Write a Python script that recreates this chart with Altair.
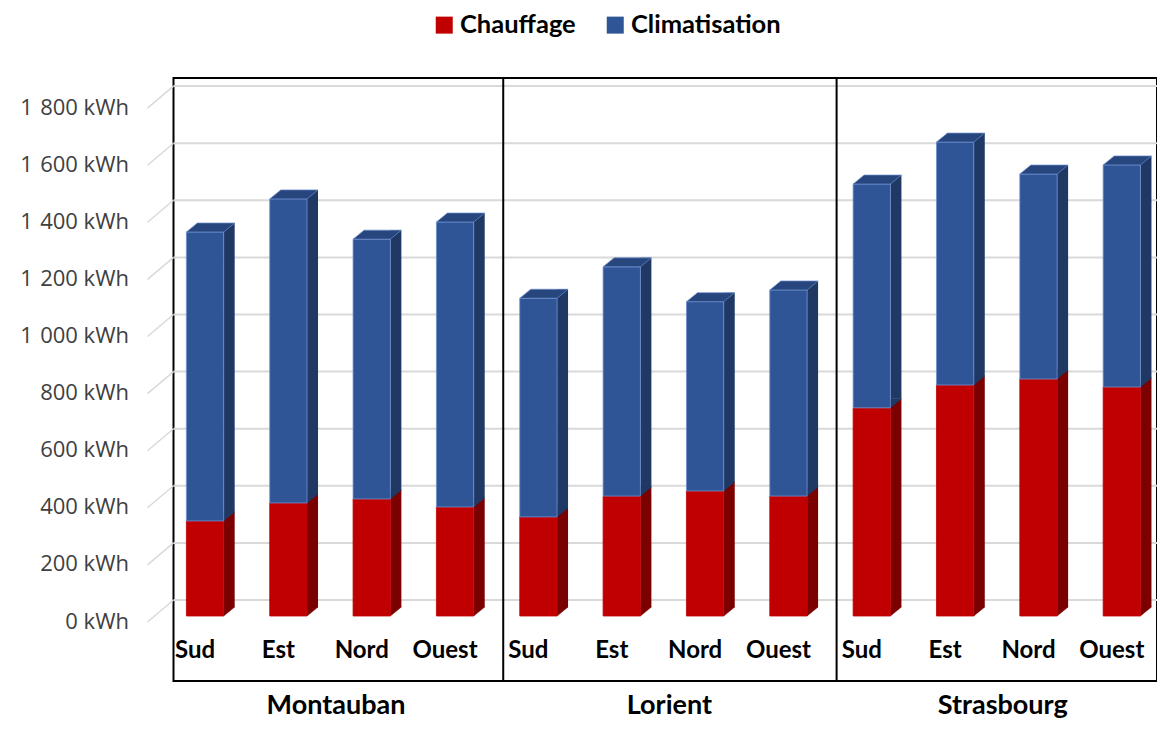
import altair as alt
import pandas as pd

# ---------------- data ----------------
cities = ["Montauban", "Lorient", "Strasbourg"]
orientations = ["Sud", "Est", "Nord", "Ouest"]
series = ["Chauffage", "Climatisation"]
chauffage_kwh = [
    [333, 396, 410, 382],
    [347, 420, 438, 420],
    [729, 809, 830, 802],
]
climatisation_kwh = [
    [1012, 1065, 910, 998],
    [766, 803, 663, 722],
    [784, 851, 718, 778],
]
y_ticks = [0, 200, 400, 600, 800, 1000, 1200, 1400, 1600, 1800]

# ---------------- style ----------------
front_colors = ["#C00000", "#2F5597"]
side_colors = ["#7B0000", "#1F3864"]
top_color = "#27467E"
edge_blue = "#6F8FCF"
grid_color = "#D9D9D9"

STEP = 84.2        # px between bars
X0 = 26.8          # px from plot left to first bar front centre
PAD_L = 165.5
SVG_W = 1149
PLOT_W = SVG_W - PAD_L
PLOT_H = 603
Y_BASE = 538.0     # px from top of plot to front baseline (0 kWh)
PX_PER = 0.2855    # px per kWh
HW = 18.65         # half front width
DX, DY = 11, 9     # depth of 3D faces

x_dom = [-X0 / STEP, (PLOT_W - X0) / STEP]
y_dom = [-(PLOT_H - Y_BASE) / PX_PER, Y_BASE / PX_PER]

n_o = len(orientations)
rows = []
for ci, city in enumerate(cities):
    for oi, o in enumerate(orientations):
        idx = ci * n_o + oi
        ch = chauffage_kwh[ci][oi]
        cl = climatisation_kwh[ci][oi]
        rows.append(dict(city=city, orient=o, idx=idx, serie=series[0], y0=0, y1=ch))
        rows.append(dict(city=city, orient=o, idx=idx, serie=series[1], y0=ch, y1=ch + cl))
bars = pd.DataFrame(rows)
labels = pd.DataFrame(
    [dict(orient=o, idx=ci * n_o + oi) for ci in range(len(cities)) for oi, o in enumerate(orientations)]
)
groups = pd.DataFrame(
    {"city": cities, "center": [ci * n_o + (n_o - 1) / 2 for ci in range(len(cities))]}
)
dividers = pd.DataFrame({"b": [ci * n_o - 0.5 for ci in range(1, len(cities))]})
grid = pd.DataFrame({"v": y_ticks})

XS = alt.Scale(domain=x_dom, nice=False, zero=False)
X = alt.X("idx:Q", scale=XS, axis=None)
YS = alt.Scale(domain=y_dom, nice=False, zero=False)
Y_AXIS = alt.Axis(
    values=y_ticks,
    labelExpr="replace(format(datum.value, ','), ',', '\u2004') + ' kWh'",
    labelFont="Open Sans",
    labelFontSize=22,
    labelColor="#404040",
    labelPadding=45,
    labelOffset=5,
    ticks=False,
    domain=False,
    grid=False,
    title=None,
)


def Y(field):
    return alt.Y(field, scale=YS, axis=Y_AXIS)


is_ch = f"datum.serie == '{series[0]}'"

grid_layer = alt.Chart(grid).mark_rule(color=grid_color, strokeWidth=2, yOffset=-16).encode(
    y=Y("v:Q")
)

diag_layer = alt.Chart(grid).mark_point(
    shape="M-26,6L0,-16", size=4, filled=False, opacity=1, stroke=grid_color, strokeWidth=1.5
).encode(x=alt.value(0), y=Y("v:Q"))

side_layer = alt.Chart(bars).mark_bar(
    size=DX, xOffset=HW + DX / 2, yOffset=-DY, y2Offset=-DY
).encode(
    x=X,
    y=Y("y1:Q"),
    y2="y0:Q",
    fill=alt.condition(is_ch, alt.value(side_colors[0]), alt.value(side_colors[1])),
)

tri_layer = alt.Chart(bars).mark_point(
    shape=f"M{HW},0L{HW},{-DY}L{HW + DX},{-DY}Z", size=4, filled=True, opacity=1, strokeWidth=0.5
).encode(
    x=X,
    y=Y("y0:Q"),
    fill=alt.condition(is_ch, alt.value(side_colors[0]), alt.value(side_colors[1])),
    stroke=alt.condition(is_ch, alt.value(side_colors[0]), alt.value(side_colors[1])),
)

front_layer = alt.Chart(bars).mark_bar(size=2 * HW, strokeWidth=0.8).encode(
    x=X,
    y=Y("y1:Q"),
    y2="y0:Q",
    color=alt.Color(
        "serie:N",
        scale=alt.Scale(domain=series, range=front_colors),
        legend=alt.Legend(
            title=None,
            orient="none",
            direction="horizontal",
            legendX=258,
            legendY=-66,
            symbolType="square",
            symbolSize=289,
            symbolStrokeWidth=0,
            labelFont="Lato",
            labelFontWeight="bold",
            labelFontSize=25.5,
            labelColor="#000000",
            labelOffset=3,
            columnPadding=26,
            padding=0,
        ),
    ),
    stroke=alt.condition(is_ch, alt.value(front_colors[0]), alt.value(edge_blue)),
)

top_layer = alt.Chart(bars).transform_filter(f"datum.serie == '{series[1]}'").mark_point(
    shape=f"M{-HW},0L{HW},0L{HW + DX},{-DY}L{-HW + DX},{-DY}Z",
    size=4,
    filled=True,
    opacity=1,
    fill=top_color,
    stroke=edge_blue,
    strokeWidth=0.7,
).encode(x=X, y=Y("y1:Q"))

label_layer = alt.Chart(labels).mark_text(
    font="Lato", fontWeight="bold", fontSize=24, color="#000000", baseline="middle", dx=-10
).encode(x=X, y=alt.YDatum(-122.6, scale=YS, axis=Y_AXIS), text="orient:N")

divider_layer = alt.Chart(dividers).mark_rule(color="#000000", strokeWidth=2, xOffset=6.5).encode(
    x=alt.X("b:Q", scale=XS, axis=None)
)

city_layer = alt.Chart(groups).mark_text(
    font="Lato", fontWeight="bold", fontSize=27, color="#000000", baseline="alphabetic", dx=6
).encode(
    x=alt.X("center:Q", scale=XS, axis=None),
    y=alt.YDatum(-345, scale=YS, axis=Y_AXIS),
    text="city:N",
)

chart = (
    alt.layer(
        grid_layer,
        diag_layer,
        side_layer,
        tri_layer,
        front_layer,
        top_layer,
        label_layer,
        divider_layer,
        city_layer,
    )
    .properties(
        width=PLOT_W,
        height=PLOT_H,
        autosize=alt.AutoSizeParams(type="none"),
        padding={"left": PAD_L, "top": 70, "right": 0, "bottom": 40},
        background="white",
    )
    .configure_view(stroke="#000000", strokeWidth=2)
)

chart.save("out.html", embed_options={"renderer": "svg", "actions": False})
